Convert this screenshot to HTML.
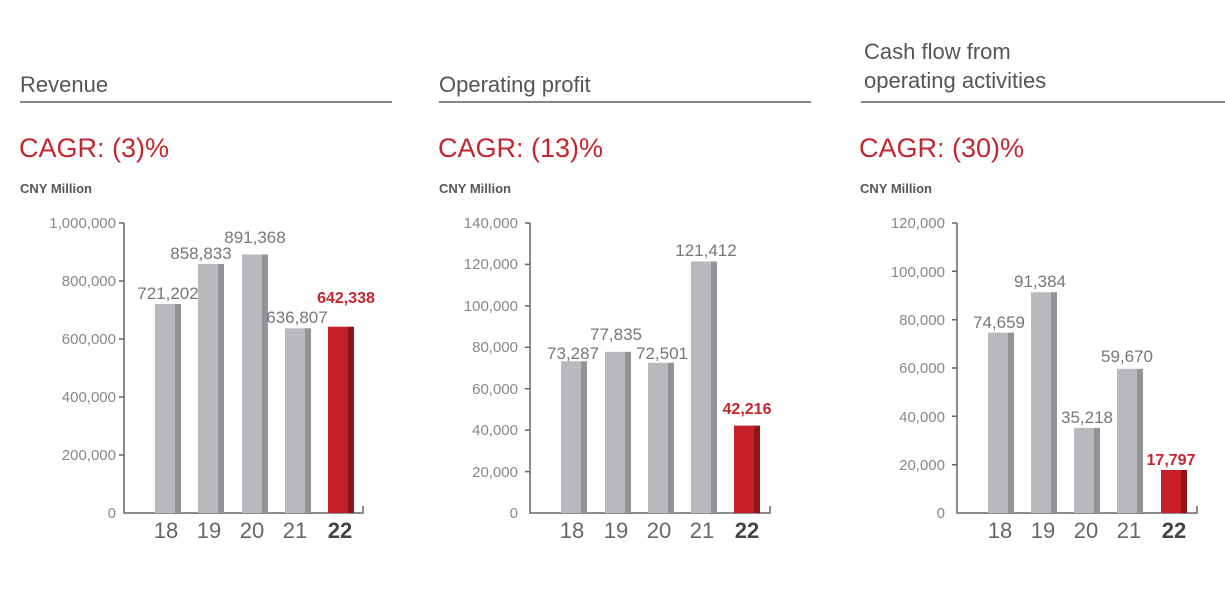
<!DOCTYPE html>
<html><head><meta charset="utf-8"><style>
html,body{margin:0;padding:0;background:#fff;}
svg{display:block;font-family:"Liberation Sans",sans-serif;}
.h{font-size:22px;fill:#555;}
.c{font-size:27px;fill:#c4262e;}
.u{font-size:13px;font-weight:bold;fill:#555;}
.t{font-size:15px;fill:#888;text-anchor:end;}
.v{font-size:17px;fill:#777;text-anchor:middle;}
.vr{font-size:16px;fill:#c4262e;font-weight:bold;text-anchor:middle;}
.y{font-size:22px;fill:#666;text-anchor:middle;}
.yb{font-size:22px;fill:#444;font-weight:bold;text-anchor:middle;}
</style></head><body>
<svg width="1225" height="591" viewBox="0 0 1225 591">
<!-- Chart 1 -->
<text class="h" x="20" y="92">Revenue</text>
<line x1="20" y1="102" x2="392" y2="102" stroke="#888" stroke-width="2"/>
<text class="c" x="19" y="157">CAGR: (3)%</text>
<text class="u" x="20" y="193">CNY Million</text>
<g stroke="#666" stroke-width="1.5" fill="none"><path d="M124 223V513H363V506"/>
<path d="M119 223H124M119 281H124M119 339H124M119 397H124M119 455H124"/></g>
<g class="t"><text x="116" y="228">1,000,000</text><text x="116" y="286">800,000</text><text x="116" y="344">600,000</text><text x="116" y="402">400,000</text><text x="116" y="460">200,000</text><text x="116" y="518">0</text></g>
<rect x="155" y="304" width="20" height="209" fill="#b9babd"/><rect x="175" y="304" width="6" height="209" fill="#939497"/>
<rect x="198" y="264" width="20" height="249" fill="#b9babd"/><rect x="218" y="264" width="6" height="249" fill="#939497"/>
<rect x="242" y="254.5" width="20" height="258.5" fill="#b9babd"/><rect x="262" y="254.5" width="6" height="258.5" fill="#939497"/>
<rect x="285" y="328.3" width="20" height="184.7" fill="#b9babd"/><rect x="305" y="328.3" width="6" height="184.7" fill="#939497"/>
<rect x="328" y="326.7" width="20" height="186.3" fill="#c71f28"/><rect x="348" y="326.7" width="6" height="186.3" fill="#8e141b"/>
<text class="v" x="168" y="299">721,202</text><text class="v" x="201" y="259">858,833</text><text class="v" x="255" y="243">891,368</text><text class="v" x="297" y="323">636,807</text><text class="vr" x="346" y="303">642,338</text>
<text class="y" x="166" y="538">18</text><text class="y" x="209" y="538">19</text><text class="y" x="252" y="538">20</text><text class="y" x="295" y="538">21</text><text class="yb" x="340" y="538">22</text>

<!-- Chart 2 -->
<text class="h" x="439" y="92">Operating profit</text>
<line x1="439" y1="102" x2="811" y2="102" stroke="#888" stroke-width="2"/>
<text class="c" x="438" y="157">CAGR: (13)%</text>
<text class="u" x="439" y="193">CNY Million</text>
<g stroke="#666" stroke-width="1.5" fill="none"><path d="M530 223V513H770V506"/>
<path d="M525 223H530M525 264.4H530M525 305.9H530M525 347.3H530M525 388.7H530M525 430.1H530M525 471.6H530"/></g>
<g class="t"><text x="518" y="228">140,000</text><text x="518" y="269">120,000</text><text x="518" y="311">100,000</text><text x="518" y="352">80,000</text><text x="518" y="394">60,000</text><text x="518" y="435">40,000</text><text x="518" y="477">20,000</text><text x="518" y="518">0</text></g>
<rect x="561" y="361.2" width="20" height="151.8" fill="#b9babd"/><rect x="581" y="361.2" width="6" height="151.8" fill="#939497"/>
<rect x="605" y="351.8" width="20" height="161.2" fill="#b9babd"/><rect x="625" y="351.8" width="6" height="161.2" fill="#939497"/>
<rect x="648" y="362.8" width="20" height="150.2" fill="#b9babd"/><rect x="668" y="362.8" width="6" height="150.2" fill="#939497"/>
<rect x="691" y="261.5" width="20" height="251.5" fill="#b9babd"/><rect x="711" y="261.5" width="6" height="251.5" fill="#939497"/>
<rect x="734" y="425.6" width="20" height="87.4" fill="#c71f28"/><rect x="754" y="425.6" width="6" height="87.4" fill="#8e141b"/>
<text class="v" x="573" y="359">73,287</text><text class="v" x="616" y="340">77,835</text><text class="v" x="662" y="359">72,501</text><text class="v" x="706" y="256">121,412</text><text class="vr" x="747" y="414">42,216</text>
<text class="y" x="572" y="538">18</text><text class="y" x="616" y="538">19</text><text class="y" x="659" y="538">20</text><text class="y" x="702" y="538">21</text><text class="yb" x="747" y="538">22</text>

<!-- Chart 3 -->
<text class="h" x="864" y="59">Cash flow from</text>
<text class="h" x="864" y="88">operating activities</text>
<line x1="861" y1="102" x2="1225" y2="102" stroke="#888" stroke-width="2"/>
<text class="c" x="859" y="157">CAGR: (30)%</text>
<text class="u" x="860" y="193">CNY Million</text>
<g stroke="#666" stroke-width="1.5" fill="none"><path d="M957 223V513H1197V506"/>
<path d="M952 223H957M952 271.3H957M952 319.7H957M952 368H957M952 416.3H957M952 464.7H957"/></g>
<g class="t"><text x="945" y="228">120,000</text><text x="945" y="277">100,000</text><text x="945" y="325">80,000</text><text x="945" y="373">60,000</text><text x="945" y="422">40,000</text><text x="945" y="470">20,000</text><text x="945" y="518">0</text></g>
<rect x="988" y="332.6" width="20" height="180.4" fill="#b9babd"/><rect x="1008" y="332.6" width="6" height="180.4" fill="#939497"/>
<rect x="1031" y="292.2" width="20" height="220.8" fill="#b9babd"/><rect x="1051" y="292.2" width="6" height="220.8" fill="#939497"/>
<rect x="1074" y="427.9" width="20" height="85.1" fill="#b9babd"/><rect x="1094" y="427.9" width="6" height="85.1" fill="#939497"/>
<rect x="1117" y="368.8" width="20" height="144.2" fill="#b9babd"/><rect x="1137" y="368.8" width="6" height="144.2" fill="#939497"/>
<rect x="1161" y="470" width="20" height="43" fill="#c71f28"/><rect x="1181" y="470" width="6" height="43" fill="#8e141b"/>
<text class="v" x="999" y="328">74,659</text><text class="v" x="1040" y="287">91,384</text><text class="v" x="1087" y="423">35,218</text><text class="v" x="1127" y="362">59,670</text><text class="vr" x="1171" y="465">17,797</text>
<text class="y" x="1000" y="538">18</text><text class="y" x="1043" y="538">19</text><text class="y" x="1086" y="538">20</text><text class="y" x="1129" y="538">21</text><text class="yb" x="1174" y="538">22</text>
</svg>
</body></html>
